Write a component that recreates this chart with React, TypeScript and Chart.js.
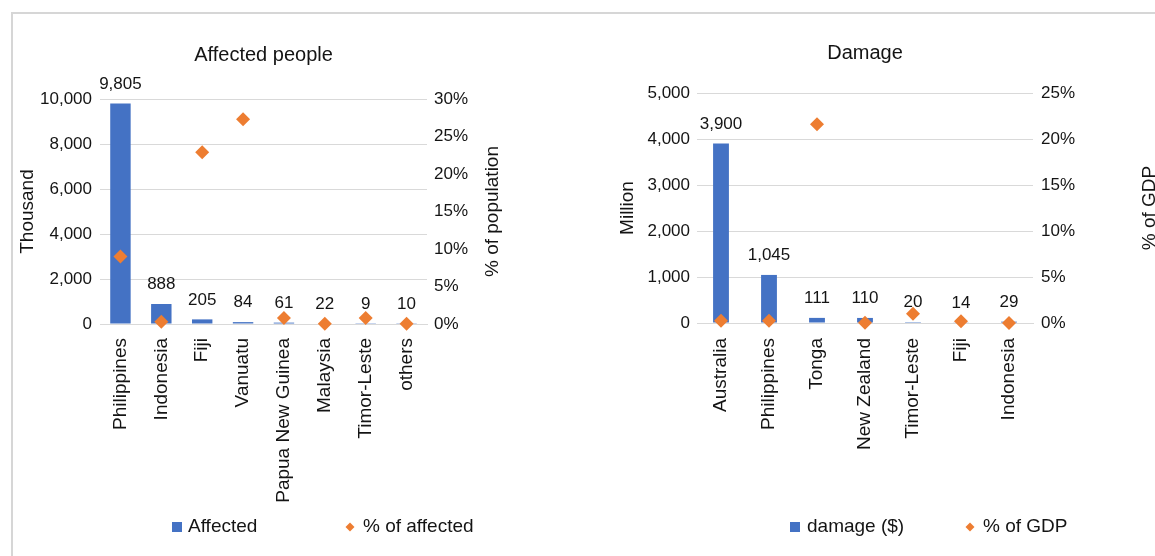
import React, { useEffect, useRef } from 'react';
import { Chart, registerables } from 'chart.js';

Chart.register(...registerables);

const FONT = "'Liberation Sans', Arial, Helvetica, sans-serif";
const TEXT = '#141414';
const GRID = '#d9d9d9';
const BLUE = '#4472c4';
const ORANGE = '#ed7d31';

// Affected people (thousand) and share of population (%)
const affectedCountries = [
  'Philippines',
  'Indonesia',
  'Fiji',
  'Vanuatu',
  'Papua New Guinea',
  'Malaysia',
  'Timor-Leste',
  'others',
];
const affectedThousand = [9805, 888, 205, 84, 61, 22, 9, 10];
const affectedPctOfPopulation = [9.0, 0.3, 22.9, 27.3, 0.8, 0.05, 0.8, 0.02];
const affectedAxis = { max: 10000, step: 2000 };
const populationPctAxis = { max: 30, step: 5 };

// Damage (million $) and share of GDP (%)
const damageCountries = [
  'Australia',
  'Philippines',
  'Tonga',
  'New Zealand',
  'Timor-Leste',
  'Fiji',
  'Indonesia',
];
const damageMillion = [3900, 1045, 111, 110, 20, 14, 29];
const damagePctOfGdp = [0.25, 0.25, 21.6, 0.03, 1.0, 0.18, 0.0];
const damageAxis = { max: 5000, step: 1000 };
const gdpPctAxis = { max: 25, step: 5 };

const fmt = (v: number) => Number(v).toLocaleString('en-US');

type Layout = {
  left: number;
  width: number;
  height: number;
  padTop: number;
  padRight: number;
  leftAxisWidth: number;
  rightAxisWidth: number;
  xAxisHeight: number;
  leftTitlePad: number;
  leftTickPad: number;
  rightTickPad: number;
  xTickPad: number;
  barPercentage: number;
  titleY: number;
  rightTitleOffset: number;
  legendY: number;
  legendMarkerX: [number, number];
  legendTextX: [number, number];
};

type ComboProps = {
  title: string;
  categories: string[];
  barLabel: string;
  barValues: number[];
  pointLabel: string;
  pointValues: number[];
  leftTitle: string;
  rightTitle: string;
  leftAxis: { max: number; step: number };
  rightAxis: { max: number; step: number };
  layout: Layout;
};

function makeDecorPlugin(p: ComboProps) {
  const L = p.layout;
  return {
    id: 'chartDecor',
    afterDatasetsDraw(chart: Chart) {
      const { ctx } = chart;
      const meta = chart.getDatasetMeta(1);
      ctx.save();
      ctx.fillStyle = TEXT;
      ctx.font = `17px ${FONT}`;
      ctx.textAlign = 'center';
      ctx.textBaseline = 'bottom';
      meta.data.forEach((el: any, i: number) => {
        ctx.fillText(fmt(p.barValues[i]), el.x, el.y - 11);
      });
      ctx.restore();
    },
    afterDraw(chart: Chart) {
      const { ctx, chartArea } = chart;
      ctx.save();
      // chart title, centred over the plot area
      ctx.fillStyle = TEXT;
      ctx.font = `20px ${FONT}`;
      ctx.textAlign = 'center';
      ctx.textBaseline = 'middle';
      ctx.fillText(p.title, (chartArea.left + chartArea.right) / 2, L.titleY);

      // right axis title, reading bottom to top
      ctx.save();
      ctx.translate(chartArea.right + L.rightTitleOffset, (chartArea.top + chartArea.bottom) / 2);
      ctx.rotate(-Math.PI / 2);
      ctx.font = `19px ${FONT}`;
      ctx.fillText(p.rightTitle, 0, 0);
      ctx.restore();

      // legend
      const y = L.legendY;
      ctx.fillStyle = BLUE;
      ctx.fillRect(L.legendMarkerX[0] - 5, y - 5, 10, 10);
      ctx.fillStyle = ORANGE;
      const dx = L.legendMarkerX[1];
      const r = 4.5;
      ctx.beginPath();
      ctx.moveTo(dx, y - r);
      ctx.lineTo(dx + r, y);
      ctx.lineTo(dx, y + r);
      ctx.lineTo(dx - r, y);
      ctx.closePath();
      ctx.fill();
      ctx.fillStyle = TEXT;
      ctx.font = `19px ${FONT}`;
      ctx.textAlign = 'left';
      ctx.fillText(p.barLabel, L.legendTextX[0], y);
      ctx.fillText(p.pointLabel, L.legendTextX[1], y);
      ctx.restore();
    },
  };
}

function ComboChart(p: ComboProps) {
  const ref = useRef<HTMLCanvasElement>(null);
  const L = p.layout;

  useEffect(() => {
    if (!ref.current) return;
    const tickFont = { family: FONT, size: 17 };
    const chart = new Chart(ref.current, {
      type: 'bar',
      data: {
        labels: p.categories,
        datasets: [
          {
            type: 'line',
            label: p.pointLabel,
            data: p.pointValues,
            yAxisID: 'y1',
            showLine: false,
            pointStyle: 'rectRot',
            pointRadius: 7,
            pointHoverRadius: 7,
            pointBackgroundColor: ORANGE,
            pointBorderColor: ORANGE,
            pointBorderWidth: 0,
            clip: false,
            order: 0,
          } as any,
          {
            type: 'bar',
            label: p.barLabel,
            data: p.barValues,
            yAxisID: 'y',
            backgroundColor: BLUE,
            borderWidth: 0,
            categoryPercentage: 1,
            barPercentage: L.barPercentage,
            order: 1,
          },
        ],
      },
      options: {
        responsive: false,
        animation: false,
        events: [],
        layout: { padding: { top: L.padTop, right: L.padRight, left: 0, bottom: 0 } },
        plugins: {
          legend: { display: false },
          title: { display: false },
          tooltip: { enabled: false },
        },
        scales: {
          x: {
            type: 'category',
            offset: true,
            grid: { display: false, drawTicks: false },
            border: { display: true, color: GRID },
            ticks: {
              autoSkip: false,
              maxRotation: 90,
              minRotation: 90,
              padding: L.xTickPad,
              color: TEXT,
              font: { family: FONT, size: 19 },
            },
            afterFit: (s: any) => {
              s.height = L.xAxisHeight;
            },
          },
          y: {
            position: 'left',
            min: 0,
            max: p.leftAxis.max,
            grid: { color: GRID, drawTicks: false },
            border: { display: false },
            ticks: {
              stepSize: p.leftAxis.step,
              padding: L.leftTickPad,
              color: TEXT,
              font: tickFont,
              callback: (v: any) => fmt(v),
            },
            title: {
              display: true,
              text: p.leftTitle,
              color: TEXT,
              font: { family: FONT, size: 19 },
              padding: { top: L.leftTitlePad, bottom: 0 },
            },
            afterFit: (s: any) => {
              s.width = L.leftAxisWidth;
            },
          },
          y1: {
            position: 'right',
            min: 0,
            max: p.rightAxis.max,
            grid: { display: false, drawTicks: false },
            border: { display: false },
            ticks: {
              stepSize: p.rightAxis.step,
              padding: L.rightTickPad,
              color: TEXT,
              font: tickFont,
              callback: (v: any) => `${v}%`,
            },
            afterFit: (s: any) => {
              s.width = L.rightAxisWidth;
            },
          },
        },
      } as any,
      plugins: [makeDecorPlugin(p)],
    });
    return () => chart.destroy();
  }, []);

  return (
    <canvas
      ref={ref}
      width={L.width}
      height={L.height}
      style={{ position: 'absolute', left: L.left, top: 0, width: L.width, height: L.height }}
    />
  );
}

const affectedLayout: Layout = {
  left: 0,
  width: 580,
  height: 556,
  padTop: 99,
  padRight: 75,
  leftAxisWidth: 100,
  rightAxisWidth: 78,
  xAxisHeight: 232,
  leftTitlePad: 16,
  leftTickPad: 8,
  rightTickPad: 7,
  xTickPad: 14,
  barPercentage: 0.5,
  titleY: 55,
  rightTitleOffset: 66,
  legendY: 527,
  legendMarkerX: [177, 350],
  legendTextX: [188, 363],
};

const damageLayout: Layout = {
  left: 580,
  width: 620,
  height: 556,
  padTop: 93,
  padRight: 67,
  leftAxisWidth: 117,
  rightAxisWidth: 100,
  xAxisHeight: 233,
  leftTitlePad: 36,
  leftTickPad: 7,
  rightTickPad: 8,
  xTickPad: 15,
  barPercentage: 0.33,
  titleY: 53,
  rightTitleOffset: 117,
  legendY: 527,
  legendMarkerX: [215, 390],
  legendTextX: [227, 403],
};

export default function App() {
  return (
    <div
      style={{
        position: 'absolute',
        left: 0,
        top: 0,
        width: 1155,
        height: 556,
        overflow: 'hidden',
        background: '#fff',
      }}
    >
      <div
        style={{
          position: 'absolute',
          left: 11,
          top: 12,
          width: 1300,
          height: 700,
          borderTop: '2px solid #d6d6d6',
          borderLeft: '2px solid #d6d6d6',
        }}
      />
      <ComboChart
        title="Affected people"
        categories={affectedCountries}
        barLabel="Affected"
        barValues={affectedThousand}
        pointLabel="% of affected"
        pointValues={affectedPctOfPopulation}
        leftTitle="Thousand"
        rightTitle="% of population"
        leftAxis={affectedAxis}
        rightAxis={populationPctAxis}
        layout={affectedLayout}
      />
      <ComboChart
        title="Damage"
        categories={damageCountries}
        barLabel="damage ($)"
        barValues={damageMillion}
        pointLabel="% of GDP"
        pointValues={damagePctOfGdp}
        leftTitle="Million"
        rightTitle="% of GDP"
        leftAxis={damageAxis}
        rightAxis={gdpPctAxis}
        layout={damageLayout}
      />
    </div>
  );
}
